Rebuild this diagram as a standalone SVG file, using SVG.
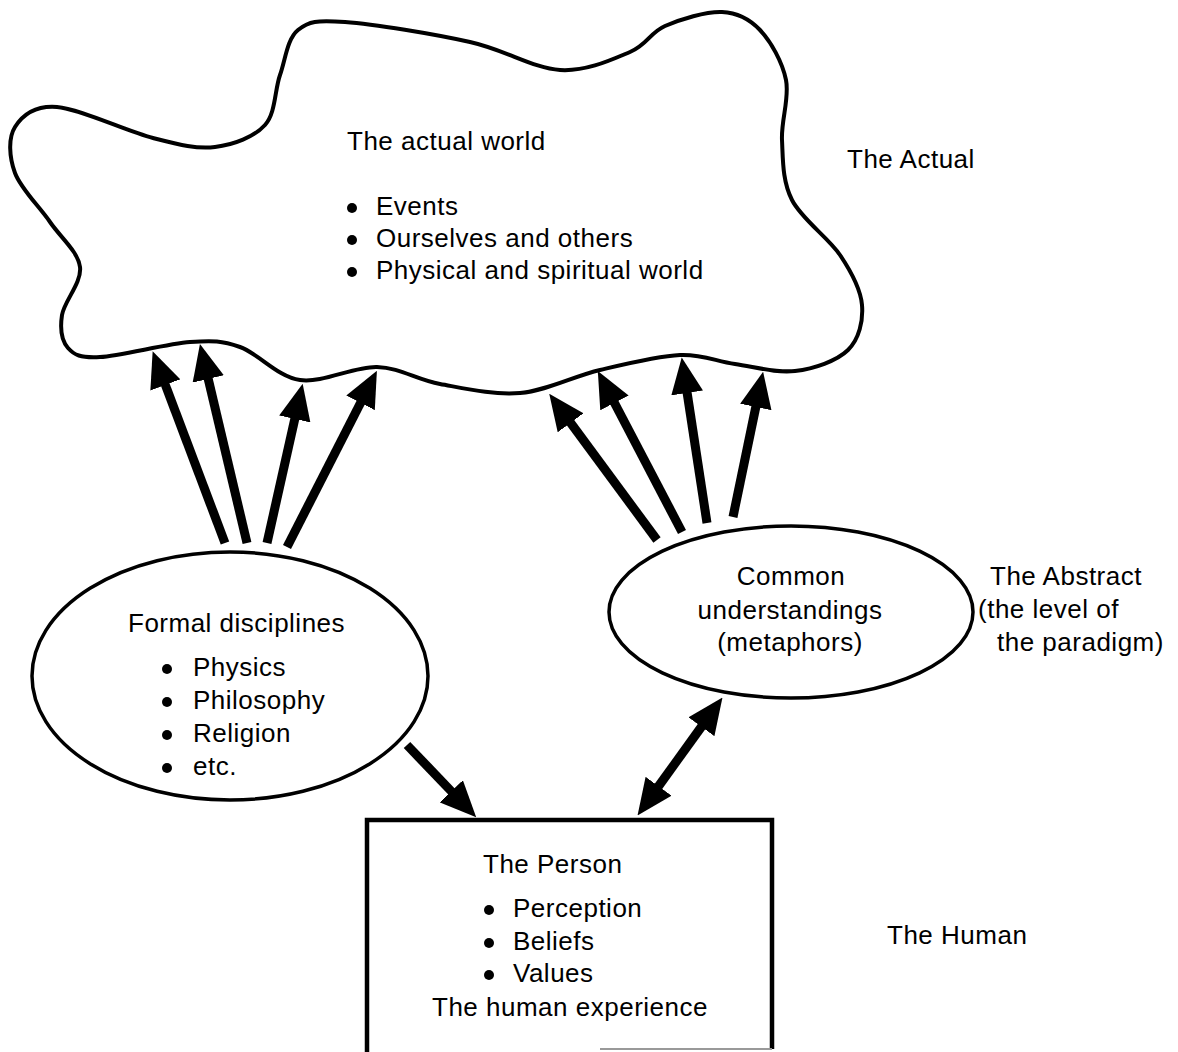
<svg xmlns="http://www.w3.org/2000/svg" width="1178" height="1052" viewBox="0 0 1178 1052">
<style>
  text { font-family: "Liberation Sans", Arial, sans-serif; font-size: 26px; letter-spacing: 0.5px; fill: #000; }
  .mid { text-anchor: middle; }
  .shape { fill: none; stroke: #000; }
  .arrow { stroke: #000; stroke-width: 9; fill: none; marker-end: url(#head); }
  .dot { fill: #000; }
</style>
<defs>
  <marker id="head" markerUnits="userSpaceOnUse" viewBox="0 0 36 32" refX="1" refY="16" markerWidth="36" markerHeight="32" orient="auto-start-reverse">
    <path d="M0,0 L36,16 L0,32 Z" fill="#000"/>
  </marker>
</defs>

<g id="cloud">
  <path class="shape" stroke-width="4" d="M280,75 C285.5,59.2 287.2,38.8 298,30 C308.8,21.2 316.3,20 345,22 C373.7,24 434.2,34 470,42 C505.8,50 533.3,68.3 560,70 C586.7,71.7 612.5,59.3 630,52 C647.5,44.7 649.7,32.7 665,26 C680.3,19.3 706.2,11.3 722,12 C737.8,12.7 749.3,18.7 760,30 C770.7,41.3 782.3,61.7 786,80 C789.7,98.3 781,120 782,140 C783,160 782.3,180.8 792,200 C801.7,219.2 828.3,237.5 840,255 C851.7,272.5 860.7,289.2 862,305 C863.3,320.8 859.2,339 848,350 C836.8,361 813.8,368.7 795,371 C776.2,373.3 754.2,366.7 735,364 C715.8,361.3 702.5,354 680,355 C657.5,356 626.7,363.7 600,370 C573.3,376.3 546.7,390.7 520,393 C493.3,395.3 463.8,388.3 440,384 C416.2,379.7 400.3,367.7 377,367 C353.7,366.3 322.8,383.3 300,380 C277.2,376.7 258.3,353.3 240,347 C221.7,340.7 213.3,340.3 190,342 C166.7,343.7 120.3,356 100,357 C79.7,358 74.3,355 68,348 C61.7,341 60,328.5 62,315 C64,301.5 82,282.5 80,267 C78,251.5 60.8,237.7 50,222 C39.2,206.3 20.8,188.8 15,173 C9.2,157.2 8,138 15,127 C22,116 34,105.2 57,107 C80,108.8 126.7,131.3 153,138 C179.3,144.7 196.3,149.2 215,147 C233.7,144.8 254.2,137 265,125 C275.8,113 274.5,90.8 280,75 Z"/>
  <text x="347" y="150">The actual world</text>
  <circle class="dot" cx="352" cy="208" r="5"/>
  <text x="376" y="215">Events</text>
  <circle class="dot" cx="352" cy="240" r="5"/>
  <text x="376" y="247">Ourselves and others</text>
  <circle class="dot" cx="352" cy="272" r="5"/>
  <text x="376" y="279">Physical and spiritual world</text>
</g>

<g id="label-actual">
  <text x="847" y="168">The Actual</text>
</g>

<g id="formal">
  <ellipse class="shape" stroke-width="3.5" cx="230" cy="676" rx="198" ry="124"/>
  <text x="128" y="632">Formal disciplines</text>
  <circle class="dot" cx="167" cy="669" r="5"/>
  <text x="193" y="676">Physics</text>
  <circle class="dot" cx="167" cy="702" r="5"/>
  <text x="193" y="709">Philosophy</text>
  <circle class="dot" cx="167" cy="735" r="5"/>
  <text x="193" y="742">Religion</text>
  <circle class="dot" cx="167" cy="768" r="5"/>
  <text x="193" y="775">etc.</text>
</g>

<g id="common">
  <ellipse class="shape" stroke-width="3.5" cx="791" cy="612" rx="182" ry="86"/>
  <text class="mid" x="791" y="585">Common</text>
  <text class="mid" x="790" y="619">understandings</text>
  <text class="mid" x="790" y="651">(metaphors)</text>
</g>

<g id="label-abstract">
  <text x="990" y="585">The Abstract</text>
  <text x="978" y="618">(the level of</text>
  <text x="997" y="651">the paradigm)</text>
</g>

<g id="person">
  <path class="shape" stroke-width="4.5" d="M367,1052 V820 H772 V1049"/>
  <line x1="600" y1="1049" x2="772" y2="1049" stroke="#999" stroke-width="2"/>
  <text x="483" y="873">The Person</text>
  <circle class="dot" cx="489" cy="910" r="5"/>
  <text x="513" y="917">Perception</text>
  <circle class="dot" cx="489" cy="943" r="5"/>
  <text x="513" y="950">Beliefs</text>
  <circle class="dot" cx="489" cy="975" r="5"/>
  <text x="513" y="982">Values</text>
  <text x="432" y="1016">The human experience</text>
</g>

<g id="label-human">
  <text x="887" y="944">The Human</text>
</g>

<g id="connectors">
  <line class="arrow" x1="225" y1="543" x2="165" y2="384"/>
  <line class="arrow" x1="247" y1="543" x2="208" y2="378"/>
  <line class="arrow" x1="267" y1="543" x2="295" y2="418"/>
  <line class="arrow" x1="287" y1="547" x2="361" y2="402"/>
  <line class="arrow" x1="657" y1="540" x2="570" y2="422"/>
  <line class="arrow" x1="682" y1="532" x2="614" y2="402"/>
  <line class="arrow" x1="707" y1="523" x2="687" y2="392"/>
  <line class="arrow" x1="733" y1="517" x2="756" y2="406"/>
  <line class="arrow" x1="407" y1="745" x2="452" y2="792"/>
  <line class="arrow" x1="658" y1="787" x2="702" y2="726" marker-start="url(#head)"/>
</g>
</svg>
